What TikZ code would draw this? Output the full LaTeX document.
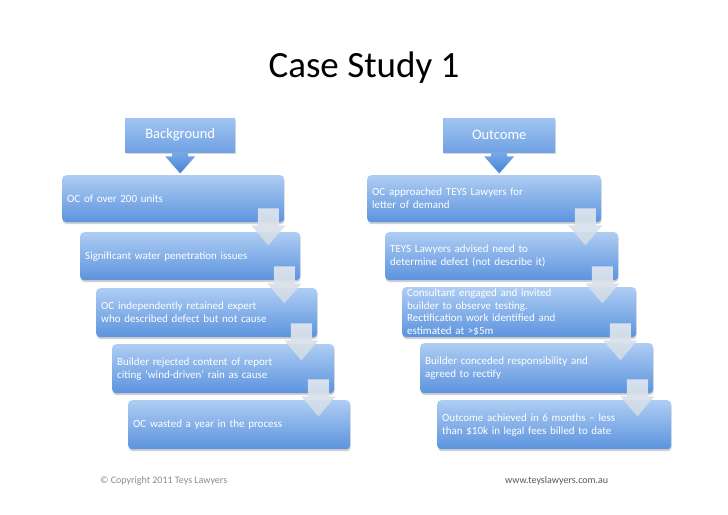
\documentclass[tikz,border=0pt]{standalone}
\usepackage{fontspec}
\setmainfont{Carlito}
\usetikzlibrary{shadows}
\definecolor{boxtop}{RGB}{174,205,243}
\definecolor{boxbot}{RGB}{92,147,222}
\definecolor{hdtop}{RGB}{160,196,241}
\definecolor{hdbot}{RGB}{112,162,228}
\definecolor{arrtop}{RGB}{120,170,232}
\definecolor{arrbot}{RGB}{70,130,210}
\definecolor{grtop}{RGB}{224,230,238}
\definecolor{grbot}{RGB}{208,218,230}
\definecolor{footgray}{RGB}{140,140,140}
\definecolor{urlgray}{RGB}{80,90,100}
\newcommand\grarrow[1]{\path[garrow] ([shift={(-26.5,-14)}]#1.south east) -- ++(21,0) -- ++(0,17) -- ++(6.5,0) -- ++(-17,20) -- ++(-17,-20) -- ++(6.5,0) -- cycle;}
\newcommand\hdarrow[1]{\path[darrow] ([shift={(-8,0)}]#1.south) -- ++(16,0) -- ++(0,4) -- ++(7,0) -- ++(-15,17) -- ++(-15,-17) -- ++(7,0) -- cycle;}
\begin{document}
\begin{tikzpicture}[x=1pt,y=-1pt,
  stepbox/.style={anchor=north west, rounded corners=4pt, top color=boxtop, bottom color=boxbot, draw=none,
    drop shadow={shadow xshift=0.5pt, shadow yshift=-2pt, opacity=0.3, fill=black!60},
    text=white, align=left, inner xsep=5pt, inner ysep=0pt,
    font=\fontsize{11}{13}\selectfont},
  headbox/.style={anchor=north west, top color=hdtop, bottom color=hdbot, draw=none,
    drop shadow={shadow xshift=0.5pt, shadow yshift=-2pt, opacity=0.25, fill=black!60},
    text=white, inner sep=0pt, font=\fontsize{14.5}{16}\selectfont},
  garrow/.style={top color=grtop, bottom color=grbot, fill opacity=0.92, draw=none},
  darrow/.style={top color=arrtop, bottom color=arrbot, draw=none},
]
\useasboundingbox (0,0) rectangle (728,514);
\fill[white] (0,0) rectangle (728,514);

\node[font=\fontsize{37}{42}\selectfont] (title) at (364,68) {Case Study 1};

% headers
\node[headbox, minimum width=110pt, minimum height=34pt] (bg) at (125,118) {Background};
\node[headbox, minimum width=112pt, minimum height=34pt] (oc) at (443,118) {Outcome};

% left column
\node[stepbox, minimum width=222pt, minimum height=47pt, text width=212pt] (l1) at (62,175) {OC of over 200 units};
\node[stepbox, minimum width=220pt, minimum height=48pt, text width=210pt] (l2) at (80,232) {Significant water penetration issues};
\node[stepbox, minimum width=221pt, minimum height=49pt, text width=211pt] (l3) at (96,288) {OC independently retained expert\\who described defect but not cause};
\node[stepbox, minimum width=222pt, minimum height=49pt, text width=212pt] (l4) at (112,344) {Builder rejected content of report\\citing ‘wind-driven’ rain as cause};
\node[stepbox, minimum width=222pt, minimum height=49pt, text width=212pt] (l5) at (128,400) {OC wasted a year in the process};

% right column
\node[stepbox, minimum width=234pt, minimum height=47pt, text width=224pt] (r1) at (367,175) {OC approached TEYS Lawyers for\\letter of demand};
\node[stepbox, minimum width=233pt, minimum height=48pt, text width=223pt] (r2) at (385,232) {TEYS Lawyers advised need to\\determine defect (not describe it)};
\node[stepbox, minimum width=234pt, minimum height=50pt, text width=224pt, font=\fontsize{11}{12.4}\selectfont] (r3) at (402,287) {Consultant engaged and invited\\builder to observe testing.\\Rectification work identified and\\estimated at >\$5m};
\node[stepbox, minimum width=233pt, minimum height=50pt, text width=223pt] (r4) at (420,343) {Builder conceded responsibility and\\agreed to rectify};
\node[stepbox, minimum width=234pt, minimum height=49pt, text width=224pt] (r5) at (437,400) {Outcome achieved in 6 months – less\\than \$10k in legal fees billed to date};

% header arrows
\hdarrow{bg}
\hdarrow{oc}

% grey arrows
\grarrow{l1}
\grarrow{l2}
\grarrow{l3}
\grarrow{l4}
\grarrow{r1}
\grarrow{r2}
\grarrow{r3}
\grarrow{r4}

% footer
\node[anchor=west, text=footgray, font=\fontsize{10}{12}\selectfont, inner sep=0pt] (copy) at (100,481) {© Copyright 2011 Teys Lawyers};
\node[anchor=west, text=urlgray, font=\fontsize{10}{12}\selectfont, inner sep=0pt] (url) at (505,481) {www.teyslawyers.com.au};
\end{tikzpicture}
\end{document}
